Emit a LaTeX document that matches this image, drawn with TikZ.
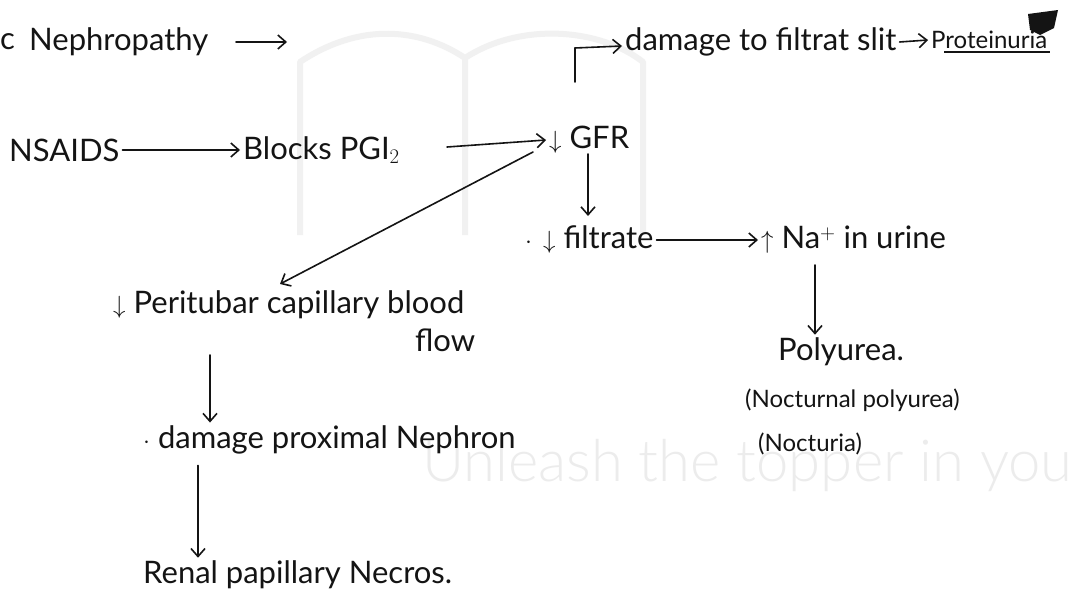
\documentclass[tikz,border=0pt]{standalone}
\usepackage{fontspec}
\setmainfont{Lato}
\newfontfamily\thinfont{Lato Light}
\usetikzlibrary{arrows.meta}
\definecolor{ink}{HTML}{141414}
\definecolor{mark}{HTML}{ECECEC}
\definecolor{bookline}{HTML}{F1F1F1}
\begin{document}
\begin{tikzpicture}[x=1pt,y=-1pt,
  note/.style={font=\fontsize{31}{33}\selectfont, inner sep=3pt, text=ink, anchor=west},
  small/.style={font=\fontsize{24}{26}\selectfont, inner sep=3pt, text=ink, anchor=west},
  flow/.style={draw=ink, line width=1.6pt, line cap=round,
    -{Straight Barb[length=8pt,width=14pt,line width=1.6pt]}},
  plain/.style={draw=ink, line width=1.6pt, line cap=round, line join=round}]
\useasboundingbox (0,0) rectangle (1070,602);
\fill[white] (0,0) rectangle (1070,602);

% faint open-book emblem and tagline in the background
\draw[bookline, line width=6pt, line join=round]
  (300,235) -- (300,62) .. controls (360,22) and (420,28) .. (465,58) -- (465,235)
  (465,58) .. controls (520,22) and (600,28) .. (643,62) -- (643,235);
\node[text=mark, font=\fontsize{58}{60}\selectfont\thinfont, anchor=east] (tag) at (1076,466) {Unleash the topper in you};

% top line
\node[note, inner sep=0pt] (c) at (0,42) {c};
\node[note] (nep) at (26,42) {Nephropathy};
\coordinate (nepstart) at (236,42);
\coordinate (nepend) at (287,42);
\draw[flow] (nepstart) -- (nepend);

% first row
\node[note] (nsaid) at (6,150) {NSAIDS};
\node[note] (pgi) at (240,150) {Blocks PGI$_2$};
\node[note] (gfr) at (546,140) {$\downarrow$ GFR};
\draw[flow] (nsaid.east) -- (pgi.west);
\coordinate (pgiout) at (447,147);
\draw[flow] (pgiout) -- (gfr.west);

% branch up to the filtration slit
\node[note] (slit) at (622,42) {damage to filtrat slit};
\node[small] (prot) at (928,40) {Proteinuria};
\coordinate (up) at (575,82);
\draw[plain] (up) -- (575,48);
\draw[flow] (575,48) -- (slit.west |- 0,46);
\draw[flow] (slit.east) -- (prot.west);
\draw[ink, line width=1.4pt] (prot.south west) ++(16,0) -- (prot.south east);
\fill[ink] (1028,14) -- (1058,10) -- (1054,28) -- (1040,35) -- (1030,30) -- cycle;

% middle branch
\node[note] (filt) at (522,240) {$\cdot\,\downarrow$ filtrate};
\node[note] (na) at (758,240) {$\uparrow$ Na$^{+}$ in urine};
\draw[flow] (588,154) -- (588,216);
\draw[flow] (filt.east) -- (na.west);

\node[note] (poly) at (775,352) {Polyurea.};
\node[small] (noct) at (742,400) {(Nocturnal polyurea)};
\node[small] (nocs) at (755,444) {(Nocturia)};
\draw[flow] (815,265) -- (poly.north -| 815,0);

% left branch
\node[note] (peri) at (110,305) {$\downarrow$ Peritubar capillary blood};
\node[note] (flow) at (412,340) {flow};
\draw[flow] (533,152) -- (280,284);

\node[note] (prox) at (140,440) {$\cdot$ damage proximal Nephron};
\node[note] (nec) at (140,575) {Renal papillary Necros.};
\draw[flow] (210,355) -- (prox.north -| 210,0);
\draw[flow] (prox.south -| 198,0) ++(0,8) -- (nec.north -| 198,0);
\end{tikzpicture}
\end{document}
